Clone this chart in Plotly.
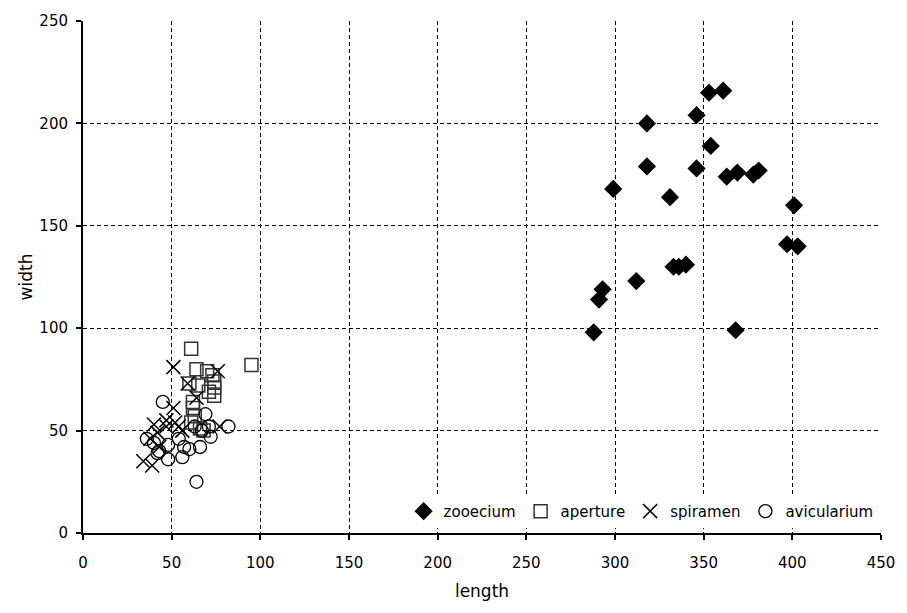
import plotly.graph_objects as go

zoo_len = [288, 291, 293, 299, 312, 318, 318, 331, 333, 336, 340, 346, 346, 353, 354, 361,
           363, 369, 368, 378, 381, 397, 401, 403]
zoo_wid = [98, 114, 119, 168, 123, 200, 179, 164, 130, 130, 131, 204, 178, 215, 189, 216,
           174, 176, 99, 175, 177, 141, 160, 140]

ap_len = [61, 95, 64, 70, 73, 60, 65, 74, 74, 74, 71, 62, 62, 63, 66, 68, 61]
ap_wid = [90, 82, 80, 79, 77, 73, 72, 74, 71, 67, 69, 64, 61, 57, 51, 50, 54]

sp_len = [51, 76, 59, 64, 51, 47, 40, 77, 52, 54, 56, 42, 38, 34, 39, 43, 47]
sp_wid = [81, 79, 73, 66, 61, 55, 53, 52, 54, 52, 50, 49, 46, 35, 33, 42, 52]

av_len = [45, 69, 82, 72, 63, 36, 40, 43, 48, 54, 57, 60, 66, 56, 48, 42, 64, 71, 67]
av_wid = [64, 58, 52, 47, 52, 46, 44, 40, 43, 46, 42, 41, 42, 37, 36, 39, 25, 52, 50]

x_ticks = [0, 50, 100, 150, 200, 250, 300, 350, 400, 450]
y_ticks = [0, 50, 100, 150, 200, 250]

fig = go.Figure()
fig.add_trace(go.Scatter(x=zoo_len, y=zoo_wid, mode="markers", name="zooecium",
                         marker=dict(symbol="diamond", size=14, color="black",
                                     line=dict(width=0))))
fig.add_trace(go.Scatter(x=ap_len, y=ap_wid, mode="markers", name="aperture",
                         marker=dict(symbol="square-open", size=13, color="#333",
                                     line=dict(width=1.5, color="#333"))))
fig.add_trace(go.Scatter(x=sp_len, y=sp_wid, mode="markers", name="spiramen",
                         marker=dict(symbol="x-thin", size=14, color="black",
                                     line=dict(width=1.5, color="black"))))
fig.add_trace(go.Scatter(x=av_len, y=av_wid, mode="markers", name="avicularium",
                         marker=dict(symbol="circle-open", size=13, color="black",
                                     line=dict(width=1.3, color="black"))))

axis_common = dict(
    showgrid=True, gridcolor="black", gridwidth=1, griddash="4px,3px",
    showline=True, linecolor="black", linewidth=2,
    ticks="outside", ticklen=5, tickcolor="black", tickwidth=1.5,
    zeroline=False, tickfont=dict(size=15, color="black", family="DejaVu Sans"),
)

fig.update_xaxes(range=[0, 450], tickvals=x_ticks, ticklabelstandoff=10,
                 title=dict(text="length", font=dict(size=17, family="DejaVu Sans", color="black"),
                            standoff=14),
                 **axis_common)
fig.update_yaxes(range=[0, 250], tickvals=y_ticks, ticklabelstandoff=5,
                 title=dict(text="width", font=dict(size=17, family="DejaVu Sans", color="black"),
                            standoff=2),
                 **axis_common)

fig.update_layout(
    width=907, height=613,
    margin=dict(l=83, r=19, t=21, b=80),
    plot_bgcolor="white", paper_bgcolor="white",
    font=dict(family="DejaVu Sans", color="black"),
    legend=dict(orientation="h", x=0.997, xanchor="right", y=0.01, yanchor="bottom",
                bgcolor="white", font=dict(size=15, color="black"),
                itemwidth=30, tracegroupgap=0),
    showlegend=True,
)

fig.write_html("out.html")
